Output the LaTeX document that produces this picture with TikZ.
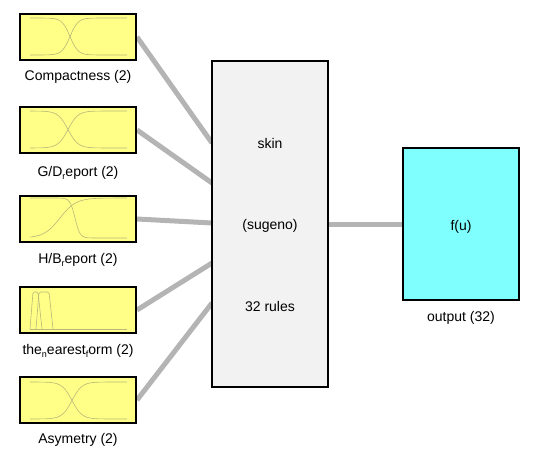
\documentclass[tikz,border=0pt]{standalone}
\usepackage{fontspec}
\setmainfont{Liberation Sans}
\pgfdeclarelayer{bg}
\pgfsetlayers{bg,main}
\definecolor{mfyellow}{HTML}{FFFF88}
\definecolor{mfcurve}{HTML}{B8B878}
\definecolor{rulegray}{HTML}{F2F2F2}
\definecolor{outcyan}{HTML}{80FFFF}
\definecolor{wire}{HTML}{B4B4B4}
\newcommand{\lowsub}[1]{\raisebox{-3.5pt}{\fontsize{9}{9}\selectfont #1}}
\tikzset{
  inbox/.style={draw=black, line width=2pt, fill=mfyellow, minimum width=116pt, minimum height=46pt, inner sep=0pt},
  rulebox/.style={draw=black, line width=2pt, fill=rulegray, minimum width=116pt, minimum height=326pt, inner sep=0pt},
  outbox/.style={draw=black, line width=2pt, fill=outcyan, minimum width=116pt, minimum height=152pt, inner sep=0pt},
  lbl/.style={font=\fontsize{14}{16}\selectfont, inner sep=0pt},
  wireline/.style={draw=wire, line width=5pt},
  mf/.style={draw=mfcurve, line width=0.6pt},
}
\begin{document}
\begin{tikzpicture}[x=1pt, y=-1pt]
\useasboundingbox (0,0) rectangle (534,462);
% input boxes
\node[inbox] (in1) at (78,37) {};
\node[inbox] (in2) at (78,130) {};
\node[inbox] (in3) at (78,219) {};
\node[inbox] (in4) at (78,310) {};
\node[inbox] (in5) at (78,400) {};
\node[lbl] (l1) at (78,77) {Compactness (2)};
\node[lbl] (l2) at (78,173) {G/D\lowsub{r}eport (2)};
\node[lbl] (l3) at (78,260) {H/B\lowsub{r}eport (2)};
\node[lbl] (l4) at (78,351) {the\lowsub{n}earest\lowsub{f}orm (2)};
\node[lbl] (l5) at (78,440) {Asymetry (2)};
% rule box
\node[rulebox] (rb) at (270,224) {};
\node[lbl] (t1) at (270,143) {skin};
\node[lbl] (t2) at (270,226) {(sugeno)};
\node[lbl] (t3) at (270,306) {32 rules};
\coordinate (m1) at (212,143);
\coordinate (m2) at (212,183);
\coordinate (m3) at (212,223);
\coordinate (m4) at (212,263);
\coordinate (m5) at (212,303);
% output box
\node[outbox] (ob) at (461,224) {};
\node[lbl] (fu) at (461,227) {f(u)};
\node[lbl] (lo) at (461,318) {output (32)};
% wires
\begin{pgfonlayer}{bg}
\draw[wireline] (in1.east) -- (m1);
\draw[wireline] (in2.east) -- (m2);
\draw[wireline] (in3.east) -- (m3);
\draw[wireline] (in4.east) -- (m4);
\draw[wireline] (in5.east) -- (m5);
\draw[wireline] (rb.east) -- (ob.west);
\end{pgfonlayer}
% membership functions
% box 1
\draw[mf] plot[domain=30:127, samples=90] (\x, {18 + 37/(1+exp(-max(min((\x-70)/4,8),-8)))});
\draw[mf] plot[domain=30:127, samples=90] (\x, {55 - 37/(1+exp(-max(min((\x-70)/4,8),-8)))});
% box 2
\draw[mf] plot[domain=30:127, samples=90] (\x, {111 + 37/(1+exp(-max(min((\x-68)/5,8),-8)))});
\draw[mf] plot[domain=30:127, samples=90] (\x, {148 - 37/(1+exp(-max(min((\x-68)/5,8),-8)))});
% box 3
\draw[mf] plot[domain=30:127, samples=90] (\x, {238 - 40/(1+exp(-max(min((\x-60)/8,8),-8)))});
\draw[mf] plot[domain=30:127, samples=90] (\x, {198 + 40/(1+exp(-max(min((\x-75)/2.5,8),-8)))});
% box 4
\draw[mf, rounded corners=1.5pt] (30,329) -- (33,292) -- (38,292) -- (42,329);
\draw[mf, rounded corners=1.5pt] (36,329) -- (39,292) -- (49,292) -- (53,329);
\draw[mf] (30,329) -- (127,329);
% box 5
\draw[mf] plot[domain=30:127, samples=90] (\x, {382 + 37/(1+exp(-max(min((\x-72)/5,8),-8)))});
\draw[mf] plot[domain=30:127, samples=90] (\x, {419 - 37/(1+exp(-max(min((\x-72)/5,8),-8)))});
\end{tikzpicture}
\end{document}
